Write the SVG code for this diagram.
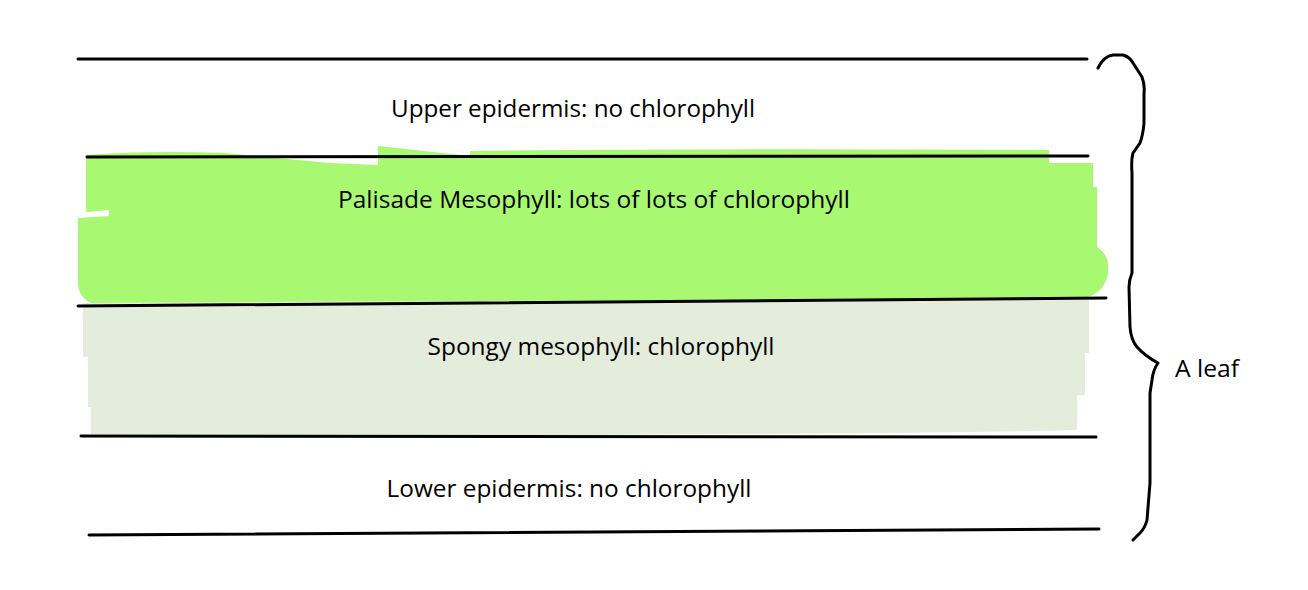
<svg xmlns="http://www.w3.org/2000/svg" width="1308" height="590" viewBox="0 0 1308 590">
<style>
.ln{stroke:#000;stroke-width:3;fill:none;stroke-linecap:round}
.t{font-family:"Open Sans","Liberation Sans",sans-serif;font-size:23px;fill:#000}
</style>
<rect width="1308" height="590" fill="#fff"/>
<g id="palisade-fill">
<path fill="#A8F971" d="M86,155 Q150,150 225,153 L330,163 L378,165 L378,146 L470,156 L470,151 Q700,148 1049,150 L1049,163 L1093,163 L1093,187 L1097,187 L1097,247 Q1110,255 1108,272 Q1106,292 1085,298 Q900,302 700,302 Q400,306 100,306 Q80,302 78,285 L78,218 L109,216 L109,210 L86,212 Z"/>
</g>
<g id="spongy-fill">
<path fill="#E4EDDC" d="M83,303 Q500,300 1089,300 L1089,353 L1085,353 L1085,395 L1077,395 L1077,430 Q900,434 700,434 Q400,437 91,434 L91,407 L88,407 L88,357 L83,357 Z"/>
</g>
<g id="connectors">
<line class="ln" x1="78" y1="59" x2="1087" y2="59"/>
<line class="ln" x1="87" y1="157" x2="1088" y2="156"/>
<line class="ln" x1="78" y1="306" x2="1106" y2="298"/>
<line class="ln" x1="81" y1="436" x2="1096" y2="437"/>
<line class="ln" x1="89" y1="535" x2="1099" y2="529"/>
<path class="ln" stroke-linejoin="round" d="M1098,68 Q1104,56 1113,55 L1123,55 Q1130,57 1133,63 L1142,77 Q1145,85 1144,93 L1144,123 Q1143,135 1140,143 L1133,153 Q1131,160 1132,173 L1132,273 Q1129,280 1129,287 L1130,327 Q1131,340 1137,347 Q1145,356 1158,363 Q1153,370 1152,380 L1150,393 L1150,483 L1147,520 Q1145,528 1140,533 L1133,540"/>
</g>
<g id="upper-epidermis"><text class="t" x="573" y="117" text-anchor="middle" textLength="364" lengthAdjust="spacingAndGlyphs">Upper epidermis: no chlorophyll</text></g>
<g id="palisade"><text class="t" x="594" y="208" text-anchor="middle" textLength="512" lengthAdjust="spacingAndGlyphs">Palisade Mesophyll: lots of lots of chlorophyll</text></g>
<g id="spongy"><text class="t" x="601" y="355" text-anchor="middle" textLength="347" lengthAdjust="spacingAndGlyphs">Spongy mesophyll: chlorophyll</text></g>
<g id="lower-epidermis"><text class="t" x="569" y="497" text-anchor="middle" textLength="365" lengthAdjust="spacingAndGlyphs">Lower epidermis: no chlorophyll</text></g>
<g id="leaf-label"><text class="t" x="1175" y="377" textLength="64" lengthAdjust="spacingAndGlyphs">A leaf</text></g>
</svg>
